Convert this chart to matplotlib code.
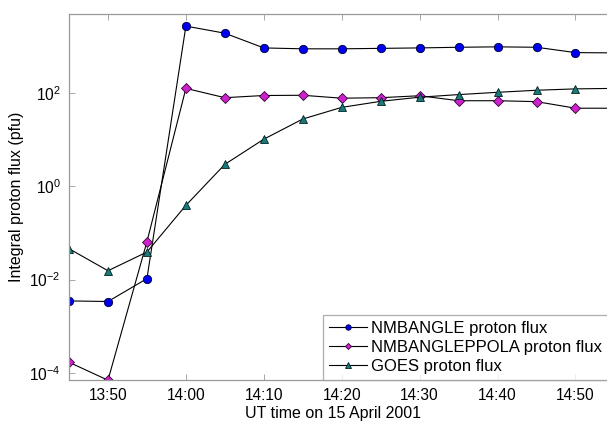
"""Integral proton flux, 15 April 2001 GLE."""

import math

import matplotlib
matplotlib.use("Agg")
import matplotlib.pyplot as plt
from matplotlib.ticker import FixedLocator, FuncFormatter, NullLocator

plt.rcParams["font.family"] = ["Liberation Sans", "DejaVu Sans"]
plt.rcParams["mathtext.default"] = "regular"

# minutes after 13:00 UT
minutes = [45, 50, 55, 60, 65, 70, 75, 80, 85, 90, 95, 100, 105, 110, 115]

nmbangle = [0.0035, 0.0034, 0.0105, 2700, 1900, 920, 880, 880, 900, 920,
            950, 970, 950, 730, 720]
nmbangle_ppola = [1.7e-4, 7e-5, 0.065, 125, 79, 88, 89, 77, 79, 87,
                  68, 68, 65, 47, 47]
goes = [0.046, 0.0155, 0.039, 0.39, 2.95, 10.2, 27.6, 49, 66, 81,
        92, 103, 114, 122, 125]

xticks = [50, 60, 70, 80, 90, 100, 110]
xtick_labels = ["13:50", "14:00", "14:10", "14:20", "14:30", "14:40", "14:50"]
yticks = [1e-4, 1e-2, 1e0, 1e2]


def main():
    fig = plt.figure(figsize=(6.07, 4.21), dpi=100)
    ax = fig.add_axes([0.1137, 0.0974, 0.8883, 0.8693])

    ax.plot(minutes, nmbangle, color="black", lw=0.8, marker="o", ms=6,
            mfc="#0000ee", mec="#000033", mew=0.6, label="NMBANGLE proton flux")
    ax.plot(minutes, nmbangle_ppola, color="black", lw=0.8, marker="D", ms=4.8,
            mfc="#cc22cc", mec="#330033", mew=0.6,
            label="NMBANGLEPPOLA proton flux")
    ax.plot(minutes, goes, color="black", lw=0.8, marker="^", ms=6.2,
            mfc="#1a7a7a", mec="#002222", mew=0.6, label="GOES proton flux")

    ax.set_yscale("log")
    ax.set_xlim(45, 114.2)
    ax.set_ylim(10 ** -4.15, 10 ** 3.69)

    ax.xaxis.set_major_locator(FixedLocator(xticks))
    ax.xaxis.set_major_formatter(
        FuncFormatter(lambda v, p: xtick_labels[xticks.index(round(v))]
                      if round(v) in xticks else ""))
    ax.yaxis.set_major_locator(FixedLocator(yticks))
    ax.yaxis.set_minor_locator(NullLocator())
    ax.yaxis.set_major_formatter(
        FuncFormatter(lambda v, p: r"$10^{%d}$" % round(math.log10(v))))

    ax.tick_params(direction="in", length=4, width=0.6, color="#999999",
                   top=True, right=False, labelsize=11.2, pad=6)
    for side in ("left", "top", "bottom"):
        ax.spines[side].set_color("#999999")
        ax.spines[side].set_linewidth(0.9)
    ax.spines["right"].set_visible(False)

    ax.set_xlabel("UT time on 15 April 2001", fontsize=11.5)
    ax.xaxis.set_label_coords(0.49, -0.072)
    ax.set_ylabel("Integral proton flux (pfu)", fontsize=11.5, labelpad=4)

    leg = ax.legend(loc="lower right", fontsize=12, frameon=True,
                    fancybox=False, borderaxespad=0, handlelength=2.3,
                    handletextpad=0.25, labelspacing=0.25, borderpad=0.35,
                    markerscale=0.65)
    leg.get_frame().set_edgecolor("#999999")
    leg.get_frame().set_linewidth(0.9)

    fig.savefig("out.png", dpi=100)


if __name__ == "__main__":
    main()
